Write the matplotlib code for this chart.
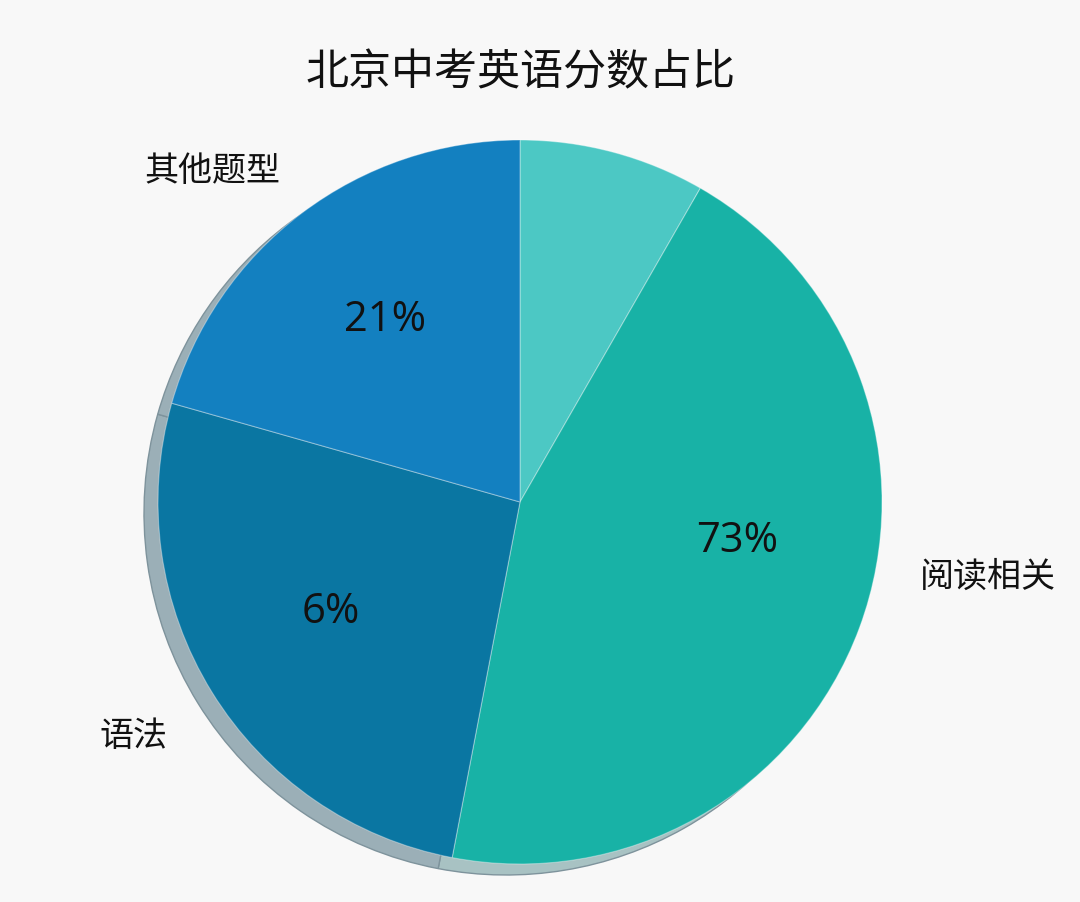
import matplotlib
matplotlib.use("Agg")
import matplotlib.pyplot as plt

plt.rcParams['font.family'] = ['Noto Sans CJK SC', 'DejaVu Sans']

# Data (clockwise from 12 o'clock)
categories = ["", "阅读相关", "语法", "其他题型"]
slice_sizes = [8.3, 44.7, 26.4, 20.6]          # angular share
shown_pct = ["", "73%", "6%", "21%"]             # text printed on the slices
colors = ["#4CC8C4", "#18B2A6", "#0A76A2", "#1380C0"]
shadow_colors = ["#A8C3C4", "#A8C2C3", "#9BAFB7", "#9BAFB7"]
title = "北京中考英语分数占比"

W, H = 1080, 903
fig = plt.figure(figsize=(W / 100, H / 100), dpi=100)
fig.patch.set_facecolor("#F8F8F8")
ax = fig.add_axes([0, 0, 1, 1])

cx, cy, r = 520, 400, 362

# shadow / 3D rim
ax.pie(slice_sizes, startangle=90, counterclock=False, center=(cx - 14, cy - 11),
       radius=r, colors=shadow_colors,
       wedgeprops=dict(edgecolor="#7E939C", linewidth=1.0), frame=True)

wedges, _ = ax.pie(slice_sizes, startangle=90, counterclock=False, center=(cx, cy),
                   radius=r, colors=colors,
                   wedgeprops=dict(edgecolor=(1, 1, 1, 0.35), linewidth=0.8), frame=True)
ax.set_xlim(0, W)
ax.set_ylim(0, H)
ax.set_aspect("equal")
ax.axis("off")

# percent texts on slices
pct_pos = [None, (737, 903 - 541), (331, 903 - 612), (385, 903 - 320)]
for txt, pos in zip(shown_pct, pct_pos):
    if txt and pos:
        ax.text(pos[0], pos[1], txt, ha="center", va="center", fontsize=30,
                color="#111111", family=["Open Sans", "DejaVu Sans"])

# outer category labels
cat_pos = [None, (988, 903 - 577), (133, 903 - 737), (212, 903 - 172)]
for txt, pos in zip(categories, cat_pos):
    if txt and pos:
        ax.text(pos[0], pos[1], txt, ha="center", va="center", fontsize=24.5, color="#111111")

ax.text(521, 903 - 73, title, ha="center", va="center", fontsize=31, color="#111111")

fig.savefig("out.png", dpi=100, facecolor=fig.get_facecolor())
